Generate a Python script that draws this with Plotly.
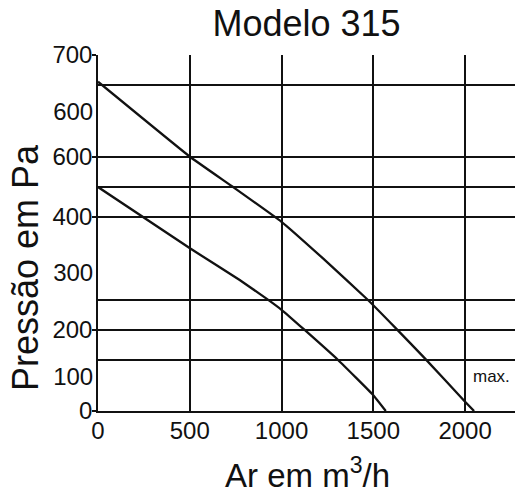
import plotly.graph_objects as go

# Airflow (m3/h) and pressure read on the chart's 0-700 vertical scale
flow_low = [0, 501, 772, 918, 1000, 1126, 1308, 1499, 1568]
pres_low = [440.4, 319.9, 257.6, 221, 199, 159.3, 100.3, 31.5, 0]

flow_max = [0, 501, 736, 1000, 1226, 1471, 1622, 1777, 2000, 2049]
pres_max = [647.5, 500, 440.4, 372, 300, 218.3, 163, 105, 18.3, 0]

# Vertical axis labels: ones drawn with a tick mark and ones without
tick_pos = [0, 159.3, 381.5, 499.4, 700]
tick_txt = ["0", "200", "400", "600", "700"]
label_pos = [67, 273, 588]
label_txt = ["100", "300", "600"]
hgrid_pos = [100.3, 159.3, 218.3, 381.5, 440.4, 499.4, 641, 700]

x_ticks = [0, 500, 1000, 1500, 2000]
x_range = [0, 2272]
y_range = [0, 700]

INK = "#111111"
FONT = "Liberation Sans, Arial, sans-serif"

fig = go.Figure()

# empty traces so the overlaid label / grid axes get drawn
fig.add_trace(go.Scatter(x=[None], y=[None], yaxis="y3", showlegend=False, hoverinfo="skip"))
fig.add_trace(go.Scatter(x=[None], y=[None], yaxis="y2", showlegend=False, hoverinfo="skip"))

for fx, py in [(flow_low, pres_low), (flow_max, pres_max)]:
    fig.add_trace(go.Scatter(x=fx, y=py, mode="lines",
                             line=dict(color=INK, width=2.3, shape="spline", smoothing=0.3),
                             showlegend=False, hoverinfo="skip"))

fig.add_annotation(x=2145, y=67, xref="x", yref="y", text="max.", showarrow=False,
                   font=dict(family=FONT, size=17, color=INK), xanchor="center", yanchor="middle")

fig.update_layout(
    width=515, height=491,
    margin=dict(l=98, r=0, t=55, b=80),
    paper_bgcolor="white", plot_bgcolor="white",
    font=dict(family=FONT, color=INK),
    title=dict(text="Modelo 315", x=0.5, xref="paper", y=1 - 23 / 491, yref="container",
               xanchor="center", yanchor="middle", font=dict(size=36, color=INK)),
    xaxis=dict(range=x_range, tickmode="array", tickvals=x_ticks,
               showgrid=True, gridcolor=INK, gridwidth=1.5,
               showline=True, linecolor=INK, linewidth=1.5, zeroline=False,
               ticks="", ticklabelstandoff=-3, tickfont=dict(size=24, color=INK)),
    yaxis=dict(range=y_range, tickmode="array", tickvals=tick_pos, ticktext=tick_txt,
               showgrid=False, showline=True, linecolor=INK, linewidth=1.5, zeroline=False,
               ticks="outside", ticklen=4, tickwidth=1.5, tickcolor=INK,
               ticklabelstandoff=-5, tickfont=dict(size=24, color=INK)),
    yaxis2=dict(range=y_range, overlaying="y", side="left", anchor="x",
                tickmode="array", tickvals=label_pos, ticktext=label_txt,
                showgrid=False, showline=False, zeroline=False,
                ticks="outside", ticklen=4, tickcolor="rgba(0,0,0,0)",
                ticklabelstandoff=-5, tickfont=dict(size=24, color=INK)),
    yaxis3=dict(range=y_range, overlaying="y", side="left", anchor="x",
                tickmode="array", tickvals=hgrid_pos, showticklabels=False,
                showgrid=True, gridcolor=INK, gridwidth=1.5,
                showline=False, zeroline=False, ticks=""),
)

# Axis titles
fig.add_annotation(x=(307 - 98) / 417, xref="paper", y=-62 / 356, yref="paper",
                   text="Ar em m<sup>3</sup>/h", showarrow=False,
                   font=dict(size=33, color=INK), xanchor="center", yanchor="middle")
fig.add_annotation(x=-73 / 417, xref="paper", y=(411 - 268) / 356, yref="paper",
                   text="Pressão em Pa", showarrow=False, textangle=-90,
                   font=dict(size=36, color=INK), xanchor="center", yanchor="middle")

fig.write_html("out.html")
